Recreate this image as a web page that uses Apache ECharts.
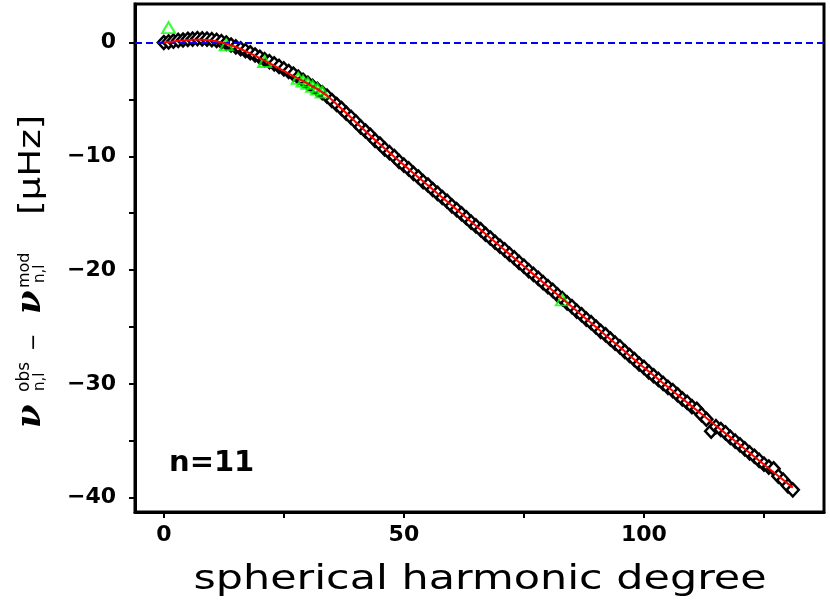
<!DOCTYPE html>
<html><head><meta charset="utf-8">
<script src="https://cdn.jsdelivr.net/npm/echarts@6/dist/echarts.min.js"></script>
<style>html,body{margin:0;padding:0;background:#fff}#c{width:830px;height:600px}</style>
</head><body><div id="c"></div>
<script>
// observed - model residuals (diamonds), one per spherical harmonic degree
const degrees = [0,1,2,3,4,5,6,7,8,9,10,11,12,13,14,15,16,17,18,19,20,21,22,23,24,25,26,27,28,29,30,31,32,33,34,35,36,37,38,39,40,41,42,43,44,45,46,47,48,49,50,51,52,53,54,55,56,57,58,59,60,61,62,63,64,65,66,67,68,69,70,71,72,73,74,75,76,77,78,79,80,81,82,83,84,85,86,87,88,89,90,91,92,93,94,95,96,97,98,99,100,101,102,103,104,105,106,107,108,109,110,111,112,113,114,115,116,117,118,119,120,121,122,123,124,125,126,127,128,129,130,131];
const residuals = [0.00,0.05,0.12,0.18,0.22,0.28,0.30,0.34,0.32,0.30,0.25,0.18,0.08,-0.05,-0.22,-0.38,-0.55,-0.72,-0.90,-1.10,-1.30,-1.50,-1.68,-1.88,-2.10,-2.32,-2.55,-2.78,-3.05,-3.32,-3.58,-3.85,-4.12,-4.42,-4.72,-5.10,-5.45,-5.80,-6.22,-6.58,-6.98,-7.42,-7.78,-8.15,-8.60,-8.92,-9.35,-9.68,-10.02,-10.45,-10.78,-11.10,-11.50,-11.82,-12.22,-12.52,-12.92,-13.25,-13.62,-13.95,-14.35,-14.68,-15.05,-15.40,-15.78,-16.12,-16.45,-16.85,-17.18,-17.55,-17.90,-18.22,-18.60,-18.92,-19.32,-19.65,-20.05,-20.38,-20.72,-21.10,-21.45,-21.78,-22.18,-22.50,-22.88,-23.20,-23.60,-23.92,-24.30,-24.62,-25.00,-25.38,-25.68,-26.05,-26.42,-26.75,-27.15,-27.50,-27.85,-28.25,-28.55,-28.95,-29.28,-29.60,-29.95,-30.30,-30.58,-30.95,-31.32,-31.62,-32.00,-32.22,-32.70,-33.10,-34.15,-33.75,-34.00,-34.30,-34.70,-35.02,-35.35,-35.70,-36.05,-36.35,-36.72,-37.05,-37.30,-37.45,-38.10,-38.45,-38.95,-39.30];
// smooth fit (red curve)
const fitDegrees = [0,2,4,6,8,10,12,14,16,18,20,22,24,26,28,30,32,34,36,38,40,45,50,55,60,65,70,75,80,85,90,95,100,105,110,115,120,125,131];
const fitValues = [0.00,0.09,0.17,0.23,0.24,0.17,0.00,-0.25,-0.57,-0.96,-1.38,-1.82,-2.27,-2.73,-3.18,-3.62,-4.10,-4.68,-5.42,-6.20,-7.00,-8.95,-10.77,-12.55,-14.33,-16.11,-17.88,-19.66,-21.44,-23.22,-25.00,-26.78,-28.56,-30.27,-31.97,-33.67,-35.37,-37.07,-39.11];
// green triangles
const triDegrees = [1,13,21,28,29,30,31,32,33,83];
const triValues = [1.30,-0.20,-1.67,-3.15,-3.40,-3.60,-3.85,-4.10,-4.35,-22.62];
// axes
const xTicks = [0,25,50,75,100,125];
const xLabels = [0,50,100];
const yTicks = [-40,-35,-30,-25,-20,-15,-10,-5,0];
const yLabels = [-40,-30,-20,-10,0];
const xTitle = 'spherical harmonic degree';
const panelLabel = 'n=11';

const chart = echarts.init(document.getElementById('c'), null, {renderer:'canvas'});
const pair = (xs, ys) => xs.map((x, i) => [x, ys[i]]);
const minus = v => String(v).replace('-', '\u2212');

const option = {
  animation: false,
  backgroundColor: '#fff',
  grid: {left: 135, top: 4, width: 689, height: 508, show: true, borderColor: '#000', borderWidth: 3, backgroundColor: 'transparent'},
  xAxis: {
    type: 'value', min: -6, max: 137.5,
    splitLine: {show: false},
    axisLine: {show: true, onZero: false, lineStyle: {color: '#000', width: 3}},
    axisTick: {show: true, customValues: xTicks, length: 6, lineStyle: {color: '#000', width: 2}},
    axisLabel: {customValues: xLabels, margin: 12, color: '#000', fontFamily: 'DejaVu Sans', fontWeight: 'bold', fontSize: 22, formatter: minus}
  },
  yAxis: {
    type: 'value', min: -41.25, max: 3.38,
    splitLine: {show: false},
    axisLine: {show: true, onZero: false, lineStyle: {color: '#000', width: 3}},
    axisTick: {show: true, customValues: yTicks, length: 6, lineStyle: {color: '#000', width: 2}},
    axisLabel: {customValues: yLabels, margin: 19, color: '#000', fontFamily: 'DejaVu Sans', fontWeight: 'bold', fontSize: 22, formatter: minus}
  },
  series: [
    {type: 'scatter', data: pair(degrees, residuals), symbol: 'diamond', symbolSize: [12, 13], z: 2,
     itemStyle: {color: '#fff', borderColor: '#000', borderWidth: 2.5, opacity: 1}},
    {type: 'scatter', data: pair(triDegrees, triValues), symbol: 'triangle', symbolSize: [13, 11], z: 3,
     itemStyle: {color: 'rgba(0,0,0,0)', borderColor: '#00ff00', borderWidth: 2}},
    {type: 'line', data: [], z: 4, silent: true,
     markLine: {silent: true, symbol: 'none', label: {show: false},
       lineStyle: {color: '#0000ff', width: 2, type: [7, 4]}, data: [{yAxis: 0}]}},
    {type: 'line', data: pair(fitDegrees, fitValues), smooth: 0.3, showSymbol: false, symbol: 'none', z: 5,
     lineStyle: {color: '#ff0000', width: 2}}
  ],
  graphic: [
    {type: 'text', x: 480, y: 580, scaleX: 1.3, style: {text: xTitle, font: '33px "DejaVu Sans"', fill: '#000', textAlign: 'center', textVerticalAlign: 'middle'}},
    {type: 'text', x: 169, y: 463, style: {text: panelLabel, font: 'bold 29px "DejaVu Sans"', fill: '#000', textAlign: 'left', textVerticalAlign: 'middle'}},
    {type: 'group', x: 42, y: 428, rotation: Math.PI / 2, children: [
      {type: 'text', x: 0, y: -11, style: {text: '\u03bd', font: 'bold italic 34px "DejaVu Serif"', fill: '#000', textAlign: 'left', textVerticalAlign: 'middle'}},
      {type: 'text', x: 36, y: -17.5, style: {text: 'obs', font: '17px "DejaVu Sans"', fill: '#000', textAlign: 'left', textVerticalAlign: 'middle'}},
      {type: 'text', x: 37, y: -2.2, style: {text: 'n,l', font: '15px "DejaVu Sans"', fill: '#000', textAlign: 'left', textVerticalAlign: 'middle'}},
      {type: 'text', x: 77, y: -7.7, style: {text: '\u2212', font: '21px "DejaVu Sans"', fill: '#000', textAlign: 'left', textVerticalAlign: 'middle'}},
      {type: 'text', x: 114, y: -11, style: {text: '\u03bd', font: 'bold italic 34px "DejaVu Serif"', fill: '#000', textAlign: 'left', textVerticalAlign: 'middle'}},
      {type: 'text', x: 140, y: -17.5, style: {text: 'mod', font: '16px "DejaVu Sans"', fill: '#000', textAlign: 'left', textVerticalAlign: 'middle'}},
      {type: 'text', x: 145, y: -2.2, style: {text: 'n,l', font: '15px "DejaVu Sans"', fill: '#000', textAlign: 'left', textVerticalAlign: 'middle'}},
      {type: 'text', x: 213, y: -10.4, scaleX: 1.2, style: {text: '[\u03bcHz]', font: '31px "DejaVu Sans"', fill: '#000', textAlign: 'left', textVerticalAlign: 'middle'}}
    ]}
  ]
};
chart.setOption(option);
</script></body></html>
